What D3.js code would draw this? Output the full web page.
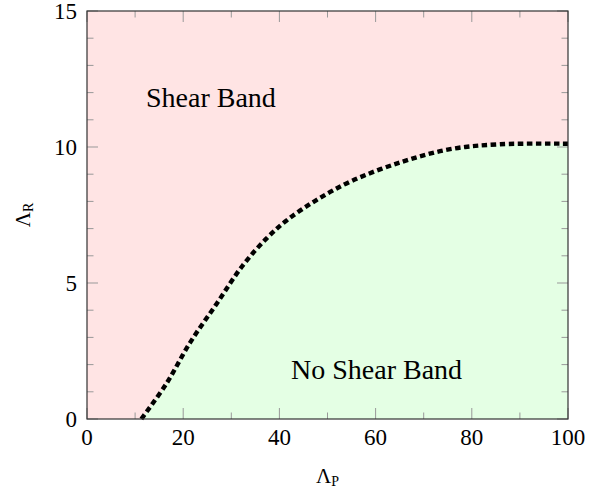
<!DOCTYPE html>
<html>
<head>
<meta charset="utf-8">
<script src="https://cdn.jsdelivr.net/npm/d3@7"></script>
<style>
  body { margin: 0; background: #fff; }
  text { font-family: "Liberation Serif", "DejaVu Serif", serif; fill: #000; }
</style>
</head>
<body>
<svg width="589" height="495"></svg>
<script>
// boundary between the two regions (Lambda_P, Lambda_R)
const lambdaP = [11.3, 16.5, 21.4, 27, 32.4, 37.4, 41.5, 47.7, 55, 65.4, 75.5, 85.9, 100];
const lambdaR = [0, 1.3, 2.8, 4.25, 5.65, 6.65, 7.3, 8.05, 8.75, 9.45, 9.92, 10.1, 10.12];
const xTicks = [0, 20, 40, 60, 80, 100];
const yTicks = [0, 5, 10, 15];
const xMinor = [10, 30, 50, 70, 90];
const yMinor = [1, 2, 3, 4, 6, 7, 8, 9, 11, 12, 13, 14];

const width = 589;
const height = 495;
const margin = { top: 11, right: 21, bottom: 76, left: 87 };

const svg = d3.select("svg");

const x = d3.scaleLinear()
    .domain([0, 100])
    .range([margin.left, width - margin.right]);

const y = d3.scaleLinear()
    .domain([0, 15])
    .range([height - margin.bottom, margin.top]);

const boundary = lambdaP.map((p, i) => ({ p: p, r: lambdaR[i] }));

// shear band region (whole plot), then no shear band below the curve
svg.append("rect")
    .attr("x", x(0))
    .attr("y", y(15))
    .attr("width", x(100) - x(0))
    .attr("height", y(0) - y(15))
    .attr("fill", "#ffe4e4");

const area = d3.area()
    .x(d => x(d.p))
    .y0(y(0))
    .y1(d => y(d.r))
    .curve(d3.curveCatmullRom.alpha(0.5));

svg.append("path")
    .datum(boundary)
    .attr("d", area)
    .attr("fill", "#e4ffe4");

// ticks, pointing inwards on all four sides
const tickColor = "#999";
function xTick(v, len) {
    svg.append("line").attr("x1", x(v)).attr("x2", x(v))
        .attr("y1", y(0)).attr("y2", y(0) - len)
        .attr("stroke", tickColor).attr("stroke-width", 1);
    svg.append("line").attr("x1", x(v)).attr("x2", x(v))
        .attr("y1", y(15)).attr("y2", y(15) + len)
        .attr("stroke", tickColor).attr("stroke-width", 1);
}
function yTick(v, len) {
    svg.append("line").attr("x1", x(0)).attr("x2", x(0) + len)
        .attr("y1", y(v)).attr("y2", y(v))
        .attr("stroke", tickColor).attr("stroke-width", 1);
    svg.append("line").attr("x1", x(100)).attr("x2", x(100) - len)
        .attr("y1", y(v)).attr("y2", y(v))
        .attr("stroke", tickColor).attr("stroke-width", 1);
}
xTicks.forEach(v => xTick(v, 11));
xMinor.forEach(v => xTick(v, 6.5));
yTicks.forEach(v => yTick(v, 11));
yMinor.forEach(v => yTick(v, 6.5));

// boundary curve
const line = d3.line()
    .x(d => x(d.p))
    .y(d => y(d.r))
    .curve(d3.curveCatmullRom.alpha(0.5));

svg.append("path")
    .datum(boundary)
    .attr("d", line)
    .attr("fill", "none")
    .attr("stroke", "#000")
    .attr("stroke-width", 4.4)
    .attr("stroke-dasharray", "5.5,3.5");

// frame
svg.append("rect")
    .attr("x", x(0))
    .attr("y", y(15))
    .attr("width", x(100) - x(0))
    .attr("height", y(0) - y(15))
    .attr("fill", "none")
    .attr("stroke", "#333")
    .attr("stroke-width", 1.2);

// tick labels
svg.selectAll("text.xlab")
    .data(xTicks)
    .enter()
    .append("text")
    .attr("class", "xlab")
    .attr("x", d => x(d))
    .attr("y", y(0) + 26)
    .attr("text-anchor", "middle")
    .attr("font-size", 23)
    .text(d => d);

svg.selectAll("text.ylab")
    .data(yTicks)
    .enter()
    .append("text")
    .attr("class", "ylab")
    .attr("x", x(0) - 10)
    .attr("y", d => y(d) + 7.5)
    .attr("text-anchor", "end")
    .attr("font-size", 23)
    .text(d => d);

// axis titles
const xTitle = svg.append("text")
    .attr("x", (x(0) + x(100)) / 2)
    .attr("y", 483)
    .attr("text-anchor", "middle")
    .attr("font-size", 21);
xTitle.append("tspan").text("Λ");
xTitle.append("tspan").attr("font-size", 14).attr("dy", 3).text("P");

const yTitle = svg.append("text")
    .attr("transform", `translate(30, ${(y(0) + y(15)) / 2}) rotate(-90)`)
    .attr("text-anchor", "middle")
    .attr("font-size", 21);
yTitle.append("tspan").text("Λ");
yTitle.append("tspan").attr("font-size", 14).attr("dy", 3).text("R");

// region labels
svg.append("text")
    .attr("x", 146)
    .attr("y", 107)
    .attr("font-size", 28)
    .text("Shear Band");

svg.append("text")
    .attr("x", 291)
    .attr("y", 379)
    .attr("font-size", 28)
    .text("No Shear Band");
</script>
</body>
</html>
